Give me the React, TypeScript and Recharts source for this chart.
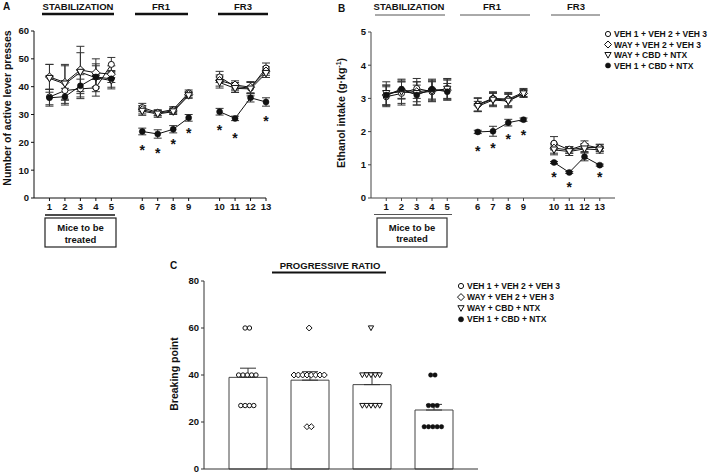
import React from "react";
import {
  ComposedChart,
  Line,
  Bar,
  Scatter,
  XAxis,
  YAxis,
  ErrorBar,
} from "recharts";

const FONT = "'Liberation Sans', Arial, sans-serif";

// session positions on the x axis (gaps between phases) and their labels
const dayPos = [1, 2, 3, 4, 5, 7, 8, 9, 10, 12, 13, 14, 15];
const dayLabels = ["1", "2", "3", "4", "5", "6", "7", "8", "9", "10", "11", "12", "13"];
const gapPos = [6, 11];

const groupNames = [
  "VEH 1 + VEH 2 + VEH 3",
  "WAY + VEH 2 + VEH 3",
  "WAY + CBD + NTX",
  "VEH 1 + CBD + NTX",
];
const groupKinds = ["circle", "diamond", "triangle", "filled"];

// Panel A: active lever presses
const aVeh = [36.3, 38.6, 39.2, 39.6, 48, 32.5, 30.7, 31.8, 37.8, 43.5, 40, 39.5, 46.7];
const aWay = [43.5, 41.5, 46, 45, 44.5, 31.7, 30.5, 31.3, 37.2, 42.2, 40.6, 39.8, 45.6];
const aWayCbd = [43, 41, 45.2, 43.2, 42.2, 31.2, 30.2, 31, 36.8, 41.5, 39.4, 39.2, 44.8];
const aCbd = [36, 36.4, 40.3, 43.5, 42.8, 23.9, 23, 24.7, 28.8, 31, 28.6, 36, 34.5];
const aVehErr = [2.8, 3.5, 3.5, 3, 2.5, 1.5, 1, 1, 1, 2, 1.5, 2, 1.8];
const aWayErr = [4.5, 6, 8.5, 5, 3, 1.5, 1, 1, 1, 2, 1.5, 2, 1.5];
const aWayCbdErr = [5, 7, 7, 5, 3, 1.5, 1.2, 1, 1, 2, 1.5, 2.5, 1.5];
const aCbdErr = [3, 3, 4, 4, 3, 1.2, 1.5, 1.3, 1.2, 1.2, 0.8, 1.5, 1.5];
const aStarPos = [7, 8, 9, 10, 12, 13, 15];
const aStarY = [18.3, 17.3, 20.5, 24.5, 25.5, 22.7, 28.8];

// Panel B: ethanol intake
const bVeh = [3.05, 3.15, 3.3, 3.2, 3.3, 2.82, 3.0, 2.98, 3.18, 1.65, 1.45, 1.52, 1.52];
const bWay = [3.1, 3.25, 3.2, 3.25, 3.25, 2.8, 2.98, 2.95, 3.15, 1.5, 1.45, 1.6, 1.5];
const bWayCbd = [3.15, 3.2, 3.15, 3.22, 3.28, 2.76, 2.95, 2.92, 3.14, 1.45, 1.4, 1.48, 1.45];
const bCbd = [3.1, 3.28, 3.1, 3.28, 3.2, 1.99, 2.01, 2.27, 2.36, 1.07, 0.77, 1.24, 0.99];
const bVehErr = [0.3, 0.35, 0.3, 0.3, 0.3, 0.2, 0.2, 0.2, 0.12, 0.2, 0.1, 0.12, 0.1];
const bWayErr = [0.3, 0.25, 0.3, 0.3, 0.3, 0.2, 0.2, 0.2, 0.12, 0.15, 0.1, 0.12, 0.1];
const bWayCbdErr = [0.35, 0.35, 0.35, 0.3, 0.3, 0.15, 0.2, 0.2, 0.1, 0.15, 0.12, 0.12, 0.1];
const bCbdErr = [0.3, 0.3, 0.3, 0.3, 0.25, 0.05, 0.15, 0.1, 0.05, 0.03, 0.03, 0.12, 0.03];
const bStarPos = [7, 8, 9, 10, 12, 13, 15];
const bStarY = [1.5, 1.59, 1.86, 1.98, 0.72, 0.42, 0.72];

// Panel C: breaking point
const cMean = [39, 37.8, 35.9, 25.1];
const cErr = [3.9, 3.6, 5, 2.4];
const cVehPts = [60, 60, 40, 40, 40, 40, 40, 27, 27, 27, 27];
const cWayPts = [60, 40, 40, 40, 40, 40, 40, 40, 40, 18, 18];
const cWayCbdPts = [60, 40, 40, 40, 40, 40, 27, 27, 27, 27, 27];
const cCbdPts = [40, 40, 27, 27, 27, 18, 18, 18, 18, 18];

const buildRows = (series: number[][], errs: number[][]) => {
  const rows: any[] = dayPos.map((p, i) => ({
    pos: p,
    s0: series[0][i], s1: series[1][i], s2: series[2][i], s3: series[3][i],
    e0: errs[0][i], e1: errs[1][i], e2: errs[2][i], e3: errs[3][i],
  }));
  gapPos.forEach((p) => rows.push({ pos: p, s0: null, s1: null, s2: null, s3: null }));
  return rows.sort((a, b) => a.pos - b.pos);
};

const rowsA = buildRows([aVeh, aWay, aWayCbd, aCbd], [aVehErr, aWayErr, aWayCbdErr, aCbdErr]);
const rowsB = buildRows([bVeh, bWay, bWayCbd, bCbd], [bVehErr, bWayErr, bWayCbdErr, bCbdErr]);
const starsA = aStarPos.map((p, i) => ({ pos: p, y: aStarY[i] }));
const starsB = bStarPos.map((p, i) => ({ pos: p, y: bStarY[i] }));

const rowsC = cMean.map((m, i) => ({ name: groupNames[i], mean: m, err: [0, cErr[i]] }));
// spread equal values side by side around the bar centre
const jitter = (pts: number[], center: number) => {
  const out: { pos: number; y: number }[] = [];
  const groups = new Map<number, number>();
  pts.forEach((v) => groups.set(v, (groups.get(v) || 0) + 1));
  groups.forEach((n, v) => {
    for (let k = 0; k < n; k++) out.push({ pos: center + (k - (n - 1) / 2) * 0.07, y: v });
  });
  return out;
};
const dotsC = [cVehPts, cWayPts, cWayCbdPts, cCbdPts].map((p, i) => jitter(p, i + 1));

const dayTick = (v: number) => {
  const i = dayPos.indexOf(v);
  return i >= 0 ? dayLabels[i] : "";
};

function Marker({ kind, x, y, r = 3 }: { kind: string; x: number; y: number; r?: number }) {
  if (x == null || y == null || isNaN(x) || isNaN(y)) return <g />;
  if (kind === "circle")
    return <circle cx={x} cy={y} r={r} fill="#fff" stroke="#111" strokeWidth={1} />;
  if (kind === "diamond") {
    const d = r * 1.35;
    return (
      <polygon
        points={`${x},${y - d} ${x + d},${y} ${x},${y + d} ${x - d},${y}`}
        fill="#fff" stroke="#111" strokeWidth={1}
      />
    );
  }
  if (kind === "triangle") {
    const d = r * 1.2;
    return (
      <polygon
        points={`${x - d},${y - d * 0.8} ${x + d},${y - d * 0.8} ${x},${y + d}`}
        fill="#fff" stroke="#111" strokeWidth={1}
      />
    );
  }
  return <circle cx={x} cy={y} r={r} fill="#111" stroke="#111" strokeWidth={0.5} />;
}

const tickStyle = { fontSize: 9.5, fontWeight: 700, fill: "#111", fontFamily: FONT };

function renderLines(rows: any[], stars: any[], errW: number) {
  return [
    ...groupKinds.map((kind, i) => (
      <Line
        key={kind}
        data={rows}
        dataKey={`s${i}`}
        stroke="#111"
        strokeWidth={1}
        connectNulls={false}
        isAnimationActive={false}
        dot={(p: any) => <Marker key={p.index} kind={kind} x={p.cx} y={p.cy} />}
        activeDot={false}
      >
        <ErrorBar dataKey={`e${i}`} width={errW} stroke="#333" strokeWidth={1} direction="y" />
      </Line>
    )),
    <Scatter
      key="stars"
      data={stars}
      dataKey="y"
      fill="#111"
      isAnimationActive={false}
      shape={(p: any) => (
        <text
          x={p.cx} y={p.cy + 8} textAnchor="middle" fontSize={14} fontWeight={700}
          fontFamily={FONT} fill="#111" stroke="none"
        >
          *
        </text>
      )}
    />,
  ];
}

function Overlay() {
  const t = { fontFamily: FONT, fontWeight: 700, fill: "#111" } as any;
  const legend = (x: number, y0: number, dy: number) =>
    groupNames.map((name, i) => (
      <g key={name}>
        <Marker kind={groupKinds[i]} x={x} y={y0 + i * dy} r={2.6} />
        <text {...t} x={x + 6} y={y0 + i * dy + 3} fontSize={8.5}>
          {name}
        </text>
      </g>
    ));
  return (
    <svg width={709} height={474} style={{ position: "absolute", left: 0, top: 0, pointerEvents: "none" }}>
      {/* panel A */}
      <text {...t} x={3} y={10} fontSize={10}>A</text>
      <text {...t} x={78} y={10} fontSize={9.5} textAnchor="middle">STABILIZATION</text>
      <line x1={42} x2={114} y1={14} y2={14} stroke="#111" strokeWidth={2.5} />
      <text {...t} x={161} y={10} fontSize={9.5} textAnchor="middle">FR1</text>
      <line x1={135} x2={188} y1={14} y2={14} stroke="#111" strokeWidth={2.5} />
      <text {...t} x={243} y={10} fontSize={9.5} textAnchor="middle">FR3</text>
      <line x1={218} x2={268} y1={14} y2={14} stroke="#111" strokeWidth={2.5} />
      <text {...t} fontSize={10.5} textAnchor="middle" transform="translate(11,108) rotate(-90)">
        Number of active lever presses
      </text>
      <line x1={45} x2={115} y1={215} y2={215} stroke="#111" strokeWidth={1.5} />
      <rect x={45} y={218} width={71} height={29} fill="none" stroke="#222" strokeWidth={1.2} />
      <text {...t} x={80.5} y={231} fontSize={9.5} textAnchor="middle">Mice to be</text>
      <text {...t} x={80.5} y={242.5} fontSize={9.5} textAnchor="middle">treated</text>

      {/* panel B */}
      <text {...t} x={338} y={12} fontSize={10}>B</text>
      <text {...t} x={409} y={10} fontSize={9.5} textAnchor="middle">STABILIZATION</text>
      <line x1={375} x2={445} y1={15} y2={15} stroke="#555" strokeWidth={1} />
      <text {...t} x={492} y={10} fontSize={9.5} textAnchor="middle">FR1</text>
      <line x1={460} x2={530} y1={15} y2={15} stroke="#555" strokeWidth={1} />
      <text {...t} x={576} y={10} fontSize={9.5} textAnchor="middle">FR3</text>
      <line x1={551} x2={600} y1={15} y2={15} stroke="#555" strokeWidth={1} />
      <text {...t} fontSize={10.5} textAnchor="middle" transform="translate(345,113) rotate(-90)">
        Ethanol intake (g·kg
        <tspan fontSize={7} dy={-4}>-1</tspan>
        <tspan dy={4}>)</tspan>
      </text>
      <line x1={374} x2={452} y1={214.5} y2={214.5} stroke="#555" strokeWidth={1} />
      <rect x={377} y={218} width={70} height={29} fill="none" stroke="#333" strokeWidth={1.2} />
      <text {...t} x={412} y={230.5} fontSize={9.5} textAnchor="middle">Mice to be</text>
      <text {...t} x={412} y={242} fontSize={9.5} textAnchor="middle">treated</text>
      {legend(608, 34, 10.5)}

      {/* panel C */}
      <text {...t} x={170} y={269} fontSize={10}>C</text>
      <text {...t} x={330} y={268.5} fontSize={9.5} textAnchor="middle">PROGRESSIVE RATIO</text>
      <line x1={272} x2={386} y1={272.5} y2={272.5} stroke="#111" strokeWidth={2.2} />
      <text {...t} fontSize={10.5} textAnchor="middle" transform="translate(178,374) rotate(-90)">
        Breaking point
      </text>
      {legend(461, 286, 11.1)}
    </svg>
  );
}

export default function App() {
  return (
    <div style={{ position: "absolute", left: 0, top: 0, width: 709, height: 474, background: "#fff", overflow: "hidden" }}>
      <div style={{ position: "absolute", left: 0, top: 0 }}>
        <ComposedChart width={280} height={220} data={rowsA} margin={{ top: 31, right: 14, bottom: 0, left: 0 }}>
          <XAxis
            dataKey="pos" type="number" domain={[0, 15]} ticks={dayPos} interval={0}
            tickFormatter={dayTick} tick={tickStyle} stroke="#111" tickSize={3} height={22}
          />
          <YAxis
            type="number" domain={[0, 60]} ticks={[0, 10, 20, 30, 40, 50, 60]} interval={0}
            tick={tickStyle} stroke="#111" tickSize={3} width={34}
          />
          {renderLines(rowsA, starsA, 4)}
        </ComposedChart>
      </div>
      <div style={{ position: "absolute", left: 340, top: 0 }}>
        <ComposedChart width={280} height={220} data={rowsB} margin={{ top: 32, right: 5, bottom: 0, left: 0 }}>
          <XAxis
            dataKey="pos" type="number" domain={[0, 16]} ticks={dayPos} interval={0}
            tickFormatter={dayTick} tick={tickStyle} stroke="#444" tickSize={3} height={22}
          />
          <YAxis
            type="number" domain={[0, 5]} ticks={[0, 1, 2, 3, 4, 5]} interval={0}
            tick={tickStyle} stroke="#444" tickSize={3} width={31}
          />
          {renderLines(rowsB, starsB, 4)}
        </ComposedChart>
      </div>
      <div style={{ position: "absolute", left: 160, top: 260 }}>
        <ComposedChart width={330} height={214} data={rowsC} margin={{ top: 21, right: 12, bottom: 0, left: 0 }}>
          <XAxis
            dataKey="name" type="category" padding={{ left: 13, right: 13 }}
            tick={false} tickLine={false} stroke="#333" height={5}
          />
          <XAxis xAxisId="n" dataKey="pos" type="number" domain={[0.3, 4.73]} hide />
          <YAxis
            type="number" domain={[0, 80]} ticks={[0, 20, 40, 60, 80]} interval={0}
            tick={tickStyle} stroke="#333" tickSize={3} width={44}
          />
          <Bar dataKey="mean" barSize={38} fill="#fff" stroke="#444" strokeWidth={1} isAnimationActive={false}>
            <ErrorBar dataKey="err" width={8} stroke="#333" strokeWidth={1} direction="y" />
          </Bar>
          {dotsC.map((d, i) => (
            <Scatter
              key={i}
              xAxisId="n"
              data={d}
              dataKey="y"
              fill="#111"
              isAnimationActive={false}
              shape={(p: any) => <Marker kind={groupKinds[i]} x={p.cx} y={p.cy} r={2.2} />}
            />
          ))}
        </ComposedChart>
      </div>
      <Overlay />
    </div>
  );
}
